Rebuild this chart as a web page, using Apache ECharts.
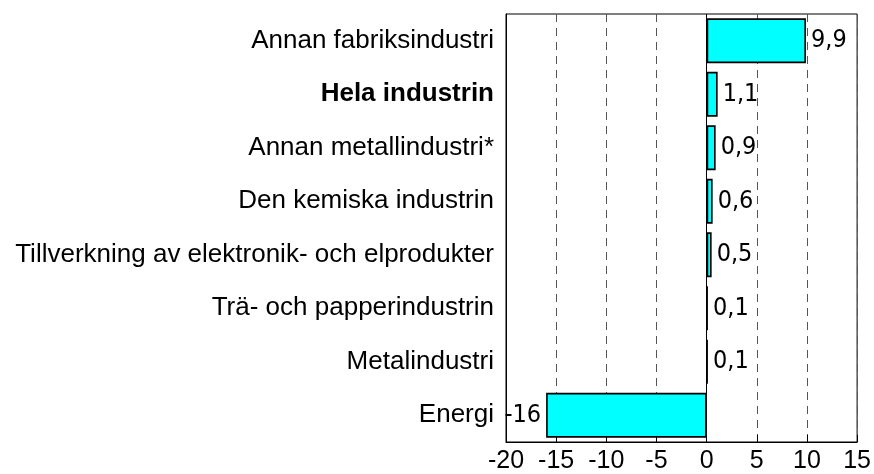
<!DOCTYPE html>
<html>
<head>
<meta charset="utf-8">
<script src="https://cdn.jsdelivr.net/npm/echarts@6/dist/echarts.min.js"></script>
<style>
  html, body { margin: 0; padding: 0; background: #fff; }
  #chart { width: 874px; height: 474px; }
</style>
</head>
<body>
<div id="chart"></div>
<script>
// categories, top to bottom
const categories = [
  'Annan fabriksindustri',
  'Hela industrin',
  'Annan metallindustri*',
  'Den kemiska industrin',
  'Tillverkning av elektronik- och elprodukter',
  'Trä- och papperindustrin',
  'Metalindustri',
  'Energi'
]
const values = [9.9, 1.1, 0.9, 0.6, 0.5, 0.1, 0.1, -16]
const boldCategory = 'Hela industrin'

const chart = echarts.init(document.getElementById('chart'))

const option = {
  animation: false,
  grid: {
    left: 506,
    right: 16,
    top: 14,
    bottom: 32,
    show: true,
    borderColor: '#000',
    borderWidth: 1
  },
  xAxis: {
    type: 'value',
    min: -20,
    max: 15,
    interval: 5,
    axisLine: { show: true, lineStyle: { color: '#000', width: 1 } },
    axisTick: { show: true, inside: true, length: 7, lineStyle: { color: '#000' } },
    axisLabel: {
      margin: 7,
      fontSize: 25,
      fontFamily: 'Liberation Sans, Arial, sans-serif',
      color: '#000'
    },
    splitLine: {
      show: true,
      lineStyle: { color: '#555', type: [8, 6], width: 1 }
    }
  },
  yAxis: {
    type: 'category',
    inverse: true,
    data: categories.map(c => ({
      value: c,
      textStyle: c === boldCategory ? { fontWeight: 'bold' } : {}
    })),
    axisLine: { show: true, onZero: false, lineStyle: { color: '#000' } },
    axisTick: { show: false },
    axisLabel: {
      margin: 12,
      fontSize: 26,
      fontFamily: 'Liberation Sans, Arial, sans-serif',
      color: '#000'
    },
    splitLine: { show: false }
  },
  series: [{
    type: 'bar',
    data: values.map(v => ({
      value: v,
      label: { position: v < 0 ? 'left' : 'right' }
    })),
    barCategoryGap: '16%',
    itemStyle: {
      color: '#00ffff',
      borderColor: '#000',
      borderWidth: 1.6
    },
    label: {
      show: true,
      distance: 5,
      fontSize: 25,
      fontFamily: "'Liberation Sans Narrow', 'DejaVu Sans Condensed', sans-serif",
      color: '#000',
      formatter: p => String(p.value).replace('.', ',')
    },
    markLine: {
      silent: true,
      symbol: ['none', 'none'],
      label: { show: false },
      lineStyle: { color: '#000', type: 'solid', width: 1 },
      data: [{ xAxis: 0 }]
    }
  }]
}
chart.setOption(option)
</script>
</body>
</html>
